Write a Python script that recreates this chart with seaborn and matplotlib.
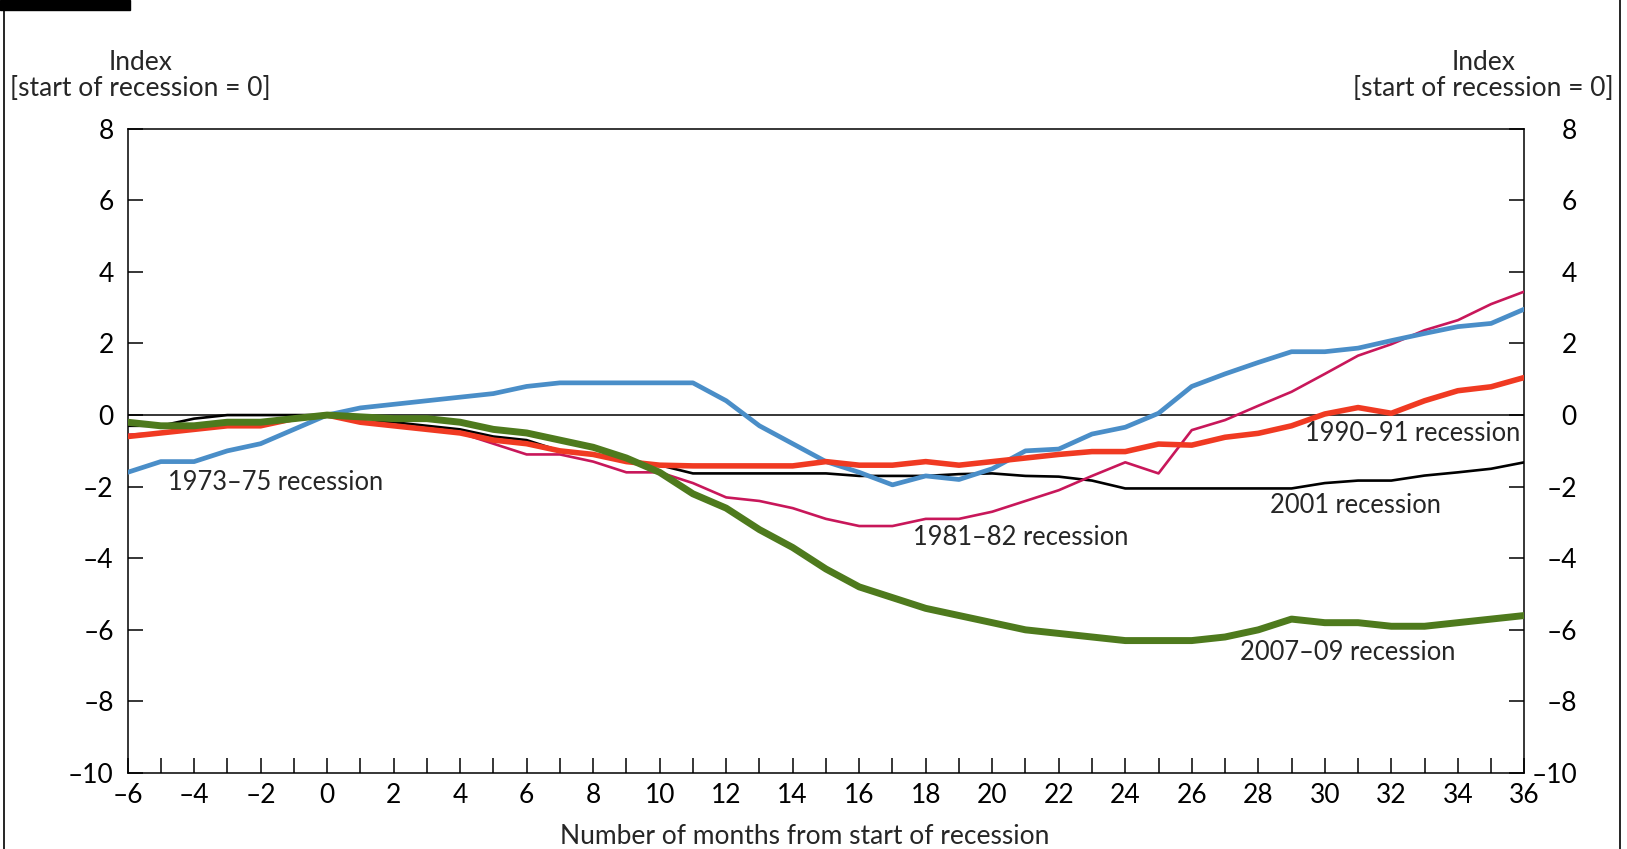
import numpy as np
import pandas as pd
import seaborn as sns
from matplotlib import pyplot as plt
from matplotlib.patches import Rectangle
from matplotlib.lines import Line2D
from matplotlib.transforms import blended_transform_factory

months = list(range(-6, 37))

r1973 = [-1.6, -1.3, -1.3, -1.0, -0.8, -0.4, 0.0, 0.2, 0.3, 0.4, 0.5, 0.6, 0.8, 0.9, 0.9,
         0.9, 0.9, 0.9, 0.4, -0.3, -0.8, -1.3, -1.6, -1.95, -1.7, -1.8, -1.5, -1.0, -0.95,
         -0.53, -0.34, 0.05, 0.8, 1.15, 1.47, 1.77, 1.77, 1.87, 2.08, 2.28, 2.47, 2.56, 2.96]
r1981 = [-0.55, -0.5, -0.4, -0.3, -0.3, -0.1, 0.0, -0.2, -0.3, -0.4, -0.5, -0.8, -1.1, -1.1,
         -1.3, -1.6, -1.6, -1.9, -2.3, -2.4, -2.6, -2.9, -3.1, -3.1, -2.9, -2.9, -2.7, -2.4,
         -2.1, -1.7, -1.32, -1.63, -0.42, -0.14, 0.26, 0.65, 1.15, 1.66, 1.98, 2.37, 2.65,
         3.1, 3.45]
r1990 = [-0.6, -0.5, -0.4, -0.3, -0.3, -0.1, 0.0, -0.2, -0.3, -0.4, -0.5, -0.7, -0.8, -1.0,
         -1.1, -1.3, -1.4, -1.42, -1.42, -1.42, -1.42, -1.3, -1.4, -1.4, -1.3, -1.4, -1.3,
         -1.2, -1.1, -1.02, -1.02, -0.81, -0.84, -0.62, -0.51, -0.3, 0.03, 0.21, 0.05, 0.4,
         0.68, 0.79, 1.05]
r2001 = [-0.3, -0.3, -0.1, 0.0, 0.0, 0.0, 0.0, -0.2, -0.2, -0.3, -0.4, -0.6, -0.7, -1.0,
         -1.1, -1.3, -1.4, -1.63, -1.63, -1.63, -1.63, -1.63, -1.7, -1.7, -1.7, -1.65, -1.63,
         -1.7, -1.72, -1.83, -2.05, -2.05, -2.05, -2.05, -2.05, -2.05, -1.9, -1.83, -1.83,
         -1.69, -1.6, -1.5, -1.32]
r2007 = [-0.2, -0.3, -0.3, -0.2, -0.2, -0.1, 0.0, -0.05, -0.1, -0.1, -0.2, -0.4, -0.5, -0.7,
         -0.9, -1.2, -1.6, -2.2, -2.6, -3.2, -3.7, -4.3, -4.8, -5.1, -5.4, -5.6, -5.8, -6.0,
         -6.1, -6.2, -6.3, -6.3, -6.3, -6.2, -6.0, -5.7, -5.8, -5.8, -5.9, -5.9, -5.8, -5.7,
         -5.6]

series = {
    "1973–75 recession": r1973,
    "1981–82 recession": r1981,
    "1990–91 recession": r1990,
    "2001 recession": r2001,
    "2007–09 recession": r2007,
}
styles = {
    "1973–75 recession": ("#4a8ec8", 3.4),
    "1981–82 recession": ("#c8175a", 1.9),
    "1990–91 recession": ("#f03a22", 4.0),
    "2001 recession": ("#000000", 1.9),
    "2007–09 recession": ("#4e7a1d", 5.0),
}

sns.set_style("ticks")
plt.rcParams['font.family'] = ['Lato', 'DejaVu Sans']
fs = 19
fa = 18.4

fig = plt.figure(figsize=(16.27, 8.49), dpi=100)
ax = fig.add_axes([0.0784, 0.0895, 0.8585, 0.7589])

ax.axhline(0, color="black", lw=1.1, zorder=1)
for name in ["2001 recession", "1981–82 recession", "1973–75 recession",
             "1990–91 recession", "2007–09 recession"]:
    df = pd.DataFrame({"month": months, "value": series[name]})
    c, lw = styles[name]
    sns.lineplot(data=df, x="month", y="value", ax=ax, color=c, linewidth=lw, zorder=3)

ax.set_xlim(-6, 36)
ax.set_ylim(-10, 8)
ax.set_xticks(months)
ax.set_xticklabels([str(m).replace("-", "\u2013") if m % 2 == 0 else "" for m in months])
yt = list(range(-10, 9, 2))
ax.set_yticks(yt)
ax.set_yticklabels([str(v).replace("-", "\u2013") for v in yt])
ax.tick_params(axis="both", direction="in", length=10.5, width=1.1, labelsize=fs,
               color="black", labelcolor="black")
ax.tick_params(axis="y", right=True, labelright=True, pad=10)
ax.tick_params(axis="x", pad=7)
for s in ax.spines.values():
    s.set_visible(True)
    s.set_color("black")
    s.set_linewidth(1.1)
ax.set_xlabel("Number of months from start of recession", fontsize=fs)
ax.xaxis.set_label_coords(0.485, -0.079)
ax.set_ylabel("")

ax.text(-4.78, -1.88, "1973–75 recession", fontsize=fa, va="center", ha="left")
ax.text(17.62, -3.42, "1981–82 recession", fontsize=fa, va="center", ha="left")
ax.text(35.87, -0.52, "1990–91 recession", fontsize=fa, va="center", ha="right")
ax.text(28.35, -2.52, "2001 recession", fontsize=fa, va="center", ha="left")
ax.text(27.45, -6.64, "2007–09 recession", fontsize=fa, va="center", ha="left")

fig.text(0.0864, 0.9115, "Index\n[start of recession = 0]", fontsize=fs, ha="center",
         va="center", linespacing=1.05)
fig.text(0.9917, 0.9115, "Index\n[start of recession = 0]", fontsize=fs, ha="right",
         va="center", linespacing=1.05, multialignment="center")

# outer frame of the figure panel
fig.patches.append(Rectangle((0, 1 - 10 / 849), 130 / 1627, 10 / 849, transform=fig.transFigure,
                             color="black", zorder=5))
fig.lines.append(Line2D([3.5 / 1627, 3.5 / 1627], [0, 1 - 9 / 849], transform=fig.transFigure,
                        color="black", lw=1.2))
fig.lines.append(Line2D([1620 / 1627, 1620 / 1627], [0, 1], transform=fig.transFigure,
                        color="black", lw=1.2))

# right-hand tick labels are right-aligned in the reference
fig.canvas.draw()
for t in ax.yaxis.get_major_ticks():
    t.label2.set_transform(blended_transform_factory(fig.transFigure, ax.transData))
    t.label2.set_x(1577 / 1627)
    t.label2.set_horizontalalignment("right")
ax.yaxis.get_major_ticks()[0].label2.set_y(-9.85)

fig.savefig("out.png", dpi=100)
